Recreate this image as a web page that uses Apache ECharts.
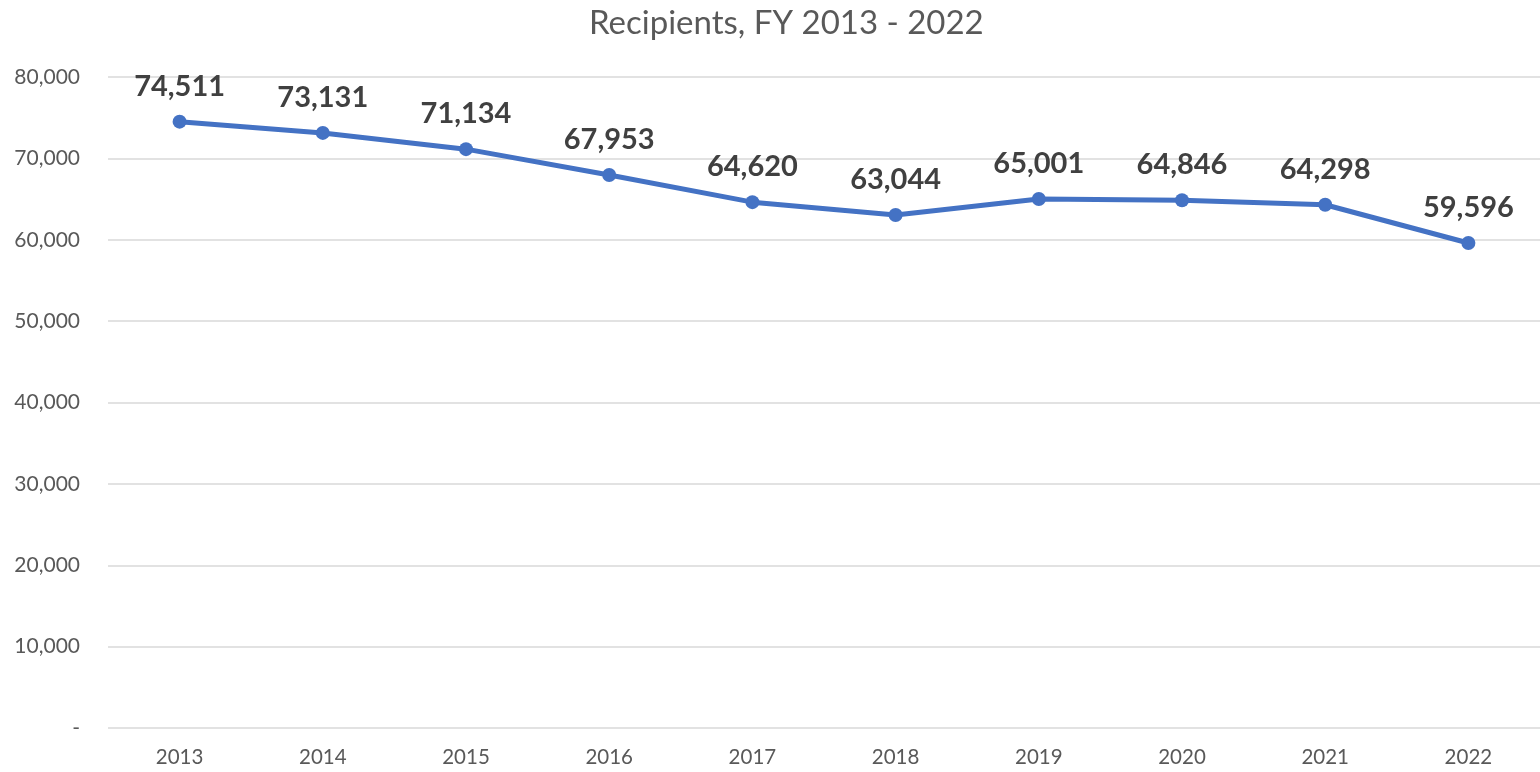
<!DOCTYPE html>
<html>
<head>
<meta charset="utf-8">
<script src="https://cdn.jsdelivr.net/npm/echarts@6/dist/echarts.min.js"></script>
<style>
  html, body { margin: 0; padding: 0; background: #fff; }
  #chart { width: 1540px; height: 772px; }
</style>
</head>
<body>
<div id="chart"></div>
<script>
// Fiscal years and recipient counts
const years = ['2013', '2014', '2015', '2016', '2017', '2018', '2019', '2020', '2021', '2022'];
const recipients = [74511, 73131, 71134, 67953, 64620, 63044, 65001, 64846, 64298, 59596];
const yTicks = [0, 10000, 20000, 30000, 40000, 50000, 60000, 70000, 80000];

const FONT = 'Lato, "Open Sans", "Noto Sans", sans-serif';
const fmt = v => v === 0 ? '-' : v.toLocaleString('en-US');

const chart = echarts.init(document.getElementById('chart'));
chart.setOption({
  animation: false,
  backgroundColor: '#ffffff',
  title: {
    text: 'Recipients, FY 2013 - 2022',
    left: 584,
    top: 2,
    textStyle: { fontFamily: FONT, fontSize: 33, fontWeight: 'normal', color: '#595959' }
  },
  grid: { left: 108, right: 0, top: 77, bottom: 44 },
  xAxis: {
    type: 'category',
    data: years,
    boundaryGap: true,
    axisLine: { show: false },
    axisTick: { show: false },
    axisLabel: { fontFamily: FONT, fontSize: 20.5, color: '#595959', margin: 19 }
  },
  yAxis: {
    type: 'value',
    min: yTicks[0],
    max: yTicks[yTicks.length - 1],
    interval: 10000,
    axisLine: { show: false },
    axisTick: { show: false },
    splitLine: { lineStyle: { color: '#d9d9d9', width: 1.5 } },
    axisLabel: {
      fontFamily: FONT, fontSize: 21, color: '#595959', margin: 28,
      formatter: fmt
    }
  },
  series: [{
    type: 'line',
    data: recipients,
    symbol: 'circle',
    symbolSize: 14,
    lineStyle: { color: '#4472C4', width: 5 },
    itemStyle: { color: '#4472C4' },
    label: {
      show: true,
      position: 'top',
      distance: 14,
      fontFamily: FONT,
      fontSize: 29,
      fontWeight: 'bold',
      color: '#404040',
      formatter: p => fmt(p.value)
    }
  }]
});
</script>
</body>
</html>
